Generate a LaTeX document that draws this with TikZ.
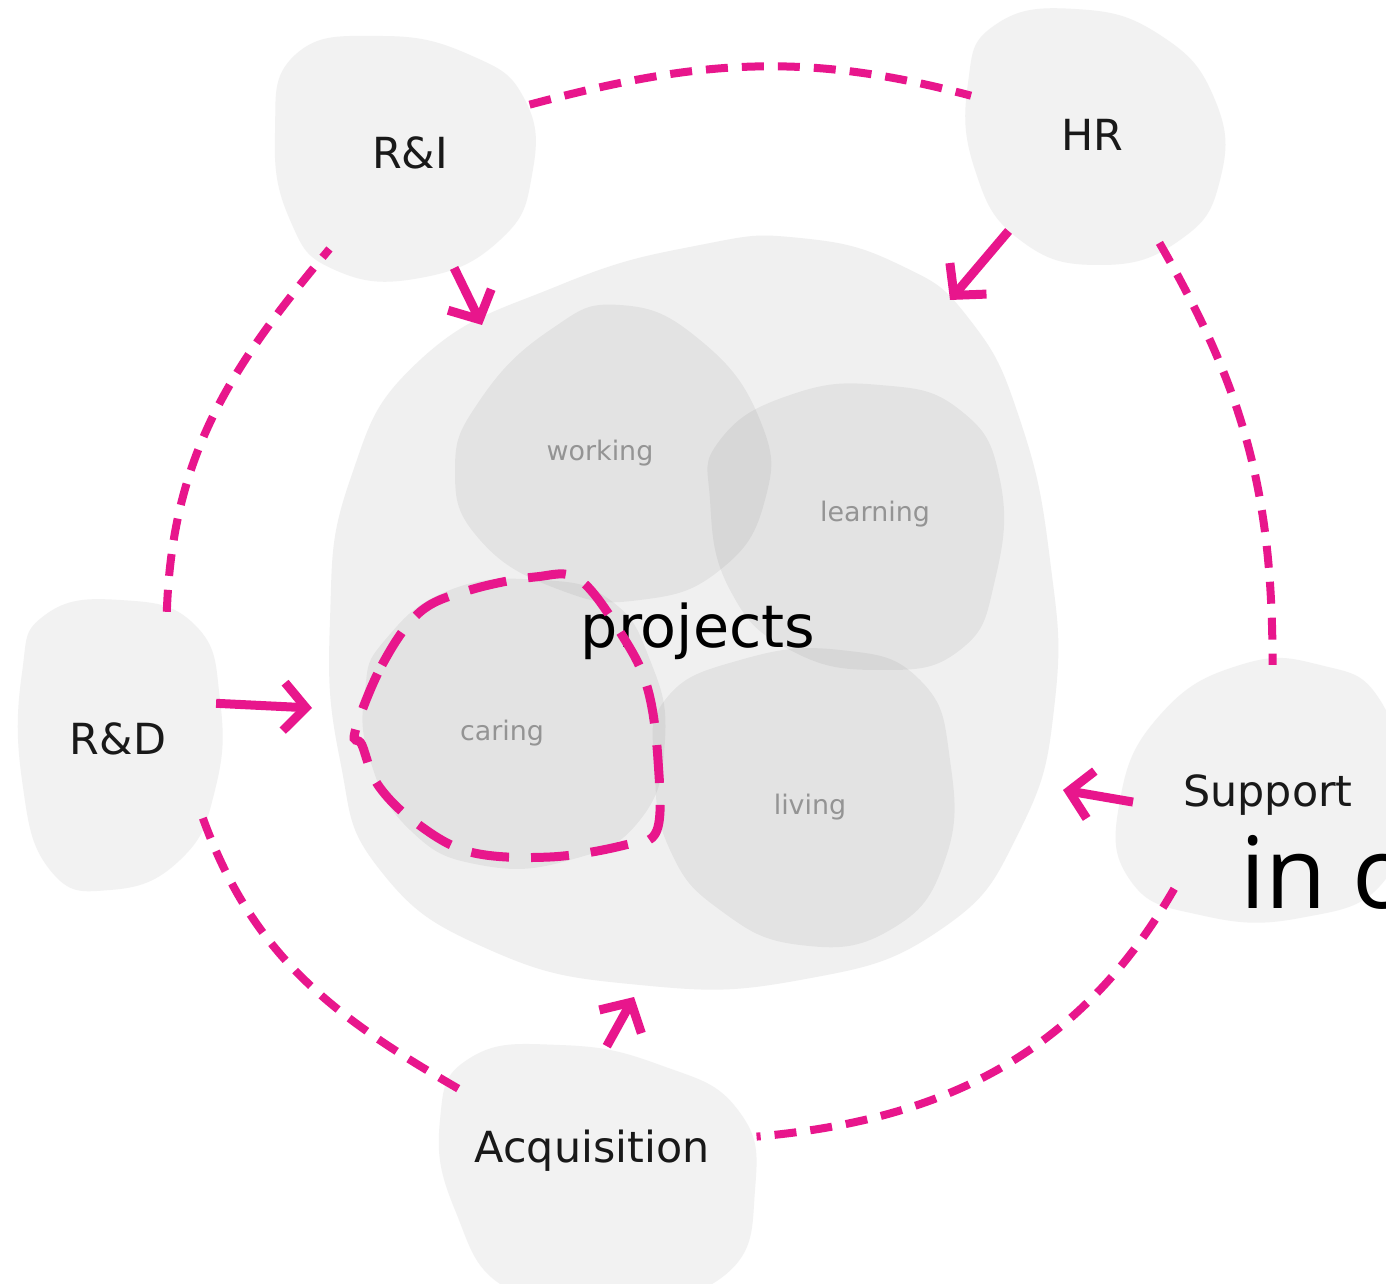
\documentclass[tikz,border=0pt]{standalone}
\usepackage{fontspec}
\setmainfont{DejaVu Sans}
\newfontfamily\stickerfont{Open Sans}
\usetikzlibrary{arrows.meta,shapes.geometric}
\definecolor{pinkline}{HTML}{E8168C}
\definecolor{blobgray}{HTML}{F2F2F2}
\definecolor{areagray}{HTML}{F0F0F0}

\begin{document}
\begin{tikzpicture}[x=1bp,y=1bp,inner sep=0pt,
  unit/.style={ellipse,inner sep=0pt,font=\fontsize{43}{48}\selectfont,text=black!90},
  ring/.style={pinkline,line width=8bp,dash pattern=on 22bp off 14bp},
  feed/.style={pinkline,line width=9bp,-{Straight Barb[length=22bp,width=48bp]}},
  bubble/.style={fill=black,fill opacity=0.05},
  theme/.style={font=\fontsize{27}{30}\selectfont,text=black!42}]
\useasboundingbox (0,0) rectangle (1386,1283);
\fill[white] (0,0) rectangle (1386,1283);
% the projects area and its four themes
\fill[areagray] plot[smooth cycle,tension=0.8] coordinates {(420,923) (560,998) (700,1038) (800,1045) (900,1018) (970,963) (1020,863) (1050,723) (1055,583) (1020,453) (940,353) (800,303) (640,298) (490,333) (380,413) (340,523) (330,663) (350,803)};
\fill[bubble] plot[smooth cycle,tension=0.8] coordinates {(480,883) (550,953) (620,978) (700,943) (760,863) (765,783) (720,713) (640,683) (560,693) (480,743) (455,813)};
\fill[bubble] plot[smooth cycle,tension=0.8] coordinates {(720,843) (790,888) (880,898) (960,873) (1000,803) (995,703) (960,633) (880,613) (790,633) (730,693) (710,783)};
\fill[bubble] plot[smooth cycle,tension=0.8] coordinates {(385,643) (450,693) (540,703) (610,683) (650,623) (665,543) (640,463) (570,423) (480,418) (410,453) (370,523) (365,593)};
\fill[bubble] plot[smooth cycle,tension=0.8] coordinates {(665,583) (740,623) (840,633) (920,603) (950,523) (945,423) (890,353) (800,338) (720,373) (670,433) (655,513)};
% the five departments
\fill[blobgray] plot[smooth cycle,tension=0.8] coordinates {(295,1228) (380,1247) (470,1228) (525,1183) (532,1108) (500,1043) (420,1005) (335,1013) (290,1063) (275,1150)};
\fill[blobgray] plot[smooth cycle,tension=0.8] coordinates {(995,1258) (1075,1274) (1160,1248) (1215,1183) (1220,1103) (1180,1043) (1100,1018) (1020,1043) (975,1113) (968,1200)};
\fill[blobgray] plot[smooth cycle,tension=0.8] coordinates {(45,668) (120,683) (195,658) (220,583) (215,493) (180,423) (110,393) (50,413) (22,503) (22,610)};
\fill[blobgray] plot[smooth cycle,tension=0.8] coordinates {(1160,568) (1240,618) (1320,618) (1380,583) (1400,493) (1385,403) (1300,365) (1200,368) (1130,403) (1120,483)};
\fill[blobgray] plot[smooth cycle,tension=0.8] coordinates {(470,225) (560,238) (660,218) (738,173) (755,93) (725,8) (620,-17) (510,-7) (455,73) (440,163)};

\node[unit,minimum width=260bp,minimum height=244bp] (ri) at (410,1130) {R\&I};
\node[unit,minimum width=254bp,minimum height=254bp] (hr) at (1092,1148) {HR};
\node[unit,minimum width=202bp,minimum height=290bp] (rnd) at (118,544) {R\&D};
\node[unit,minimum width=270bp,minimum height=260bp] (sup) at (1268,488) {Support};
\node[unit,minimum width=300bp,minimum height=210bp] (acq) at (592,132) {Acquisition};

\node[theme] (work) at (600,830) {working};
\node[theme] (learn) at (875,769) {learning};
\node[theme] (care) at (502,550) {caring};
\node[theme] (live) at (810,476) {living};
\node[font=\fontsize{59}{64}\selectfont,text=black] (proj) at (698,652) {projects};

% where the arrows meet the projects area
\coordinate (in-ri) at (482,958);
\coordinate (in-hr) at (950,983);
\coordinate (in-rnd) at (312,575);
\coordinate (in-sup) at (1063,493);
\coordinate (in-acq) at (634,286);

\draw[ring] (ri.22) to[out=15,in=165] (hr.162);
\draw[ring] (hr.-58) to[out=-60,in=90] (sup.88);
\draw[ring] (sup.-135) to[out=-120,in=5] (acq.5);
\draw[ring] (acq.155) to[out=150,in=-70] (rnd.-43);
\draw[ring] (rnd.69) to[out=88,in=-130] (ri.-130);

\draw[feed] (ri.-69) -- (in-ri);
\draw[feed] (hr.-131) -- (in-hr);
\draw[feed] (rnd.20) -- (in-rnd);
\draw[feed] (sup.183) -- (in-sup);
\draw[feed] (acq.82) -- (in-acq);

% loop round caring
\draw[pinkline,line width=9bp,dash pattern=on 38bp off 22bp] plot[smooth cycle,tension=0.6] coordinates {(355,551) (382,618) (420,671) (470,693) (535,706) (580,703) (625,643) (648,593) (658,523) (657,453) (625,438) (550,426) (470,431) (415,461) (378,498) (362,538)};

\node[anchor=base west,font=\stickerfont\fontsize{100}{110}\selectfont,text=black] (cut) at (1240,375) {in c};
\end{tikzpicture}
\end{document}
